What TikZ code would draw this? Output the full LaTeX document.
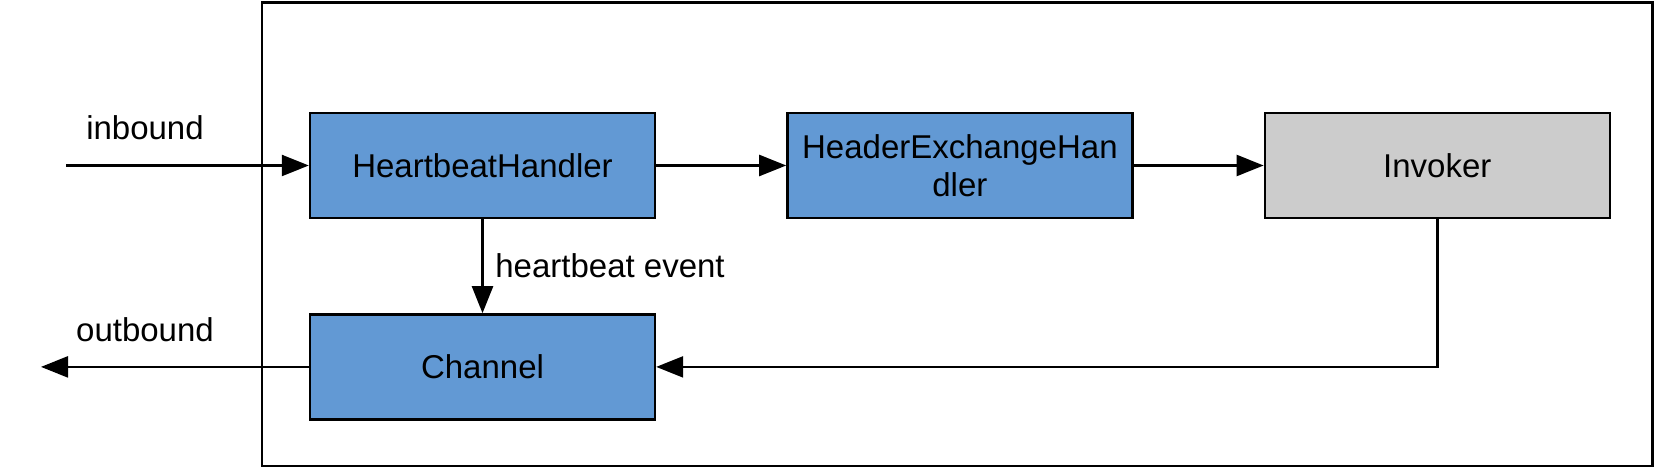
\documentclass[tikz,border=0pt]{standalone}
\usepackage{fontspec}
\setmainfont{Liberation Sans}
\usepackage{xcolor}
\usetikzlibrary{positioning,arrows.meta}
\definecolor{handlerblue}{RGB}{98,153,212}
\definecolor{invokergray}{RGB}{204,204,204}

\begin{document}
\begin{tikzpicture}[x=0.5pt,y=-0.5pt,line width=1.2pt,
    font=\fontsize{16.5}{19}\selectfont,
    box/.style={draw,minimum width=172.5pt,minimum height=52.5pt,inner sep=0pt,align=center},
    >={Triangle[length=13.5pt,width=10.5pt]}]
    \useasboundingbox (0,0) rectangle (1655,469);
    \draw (262,2.5) rectangle (1652.5,466);

    \node[box,fill=handlerblue] (heartbeat) at (482.5,165.5) {HeartbeatHandler};
    \node[box,fill=handlerblue] (exchange) [right=65pt of heartbeat] {HeaderExchangeHan\\dler};
    \node[box,fill=invokergray] (invoker) [right=65pt of exchange] {Invoker};
    \node[box,fill=handlerblue] (channel) [below=47pt of heartbeat] {Channel};

    \coordinate (in) at (66,165.5);
    \coordinate (out) at (41,366);
    \node[anchor=base] (inlabel) at (145,140) {inbound};
    \node[anchor=base] (outlabel) at (145,342) {outbound};

    % left to right arrows
    \draw [->] (in) -- (heartbeat);
    \draw [->] (heartbeat) -- (exchange);
    \draw [->] (exchange) -- (invoker);

    % down and back arrows
    \draw [->] (heartbeat) -- node[right,xshift=2.5pt]{heartbeat event} (channel);
    \draw [->] (invoker.south) |- (channel.east);
    \draw [->] (channel.west) -- (channel.west -| out);
\end{tikzpicture}
\end{document}
